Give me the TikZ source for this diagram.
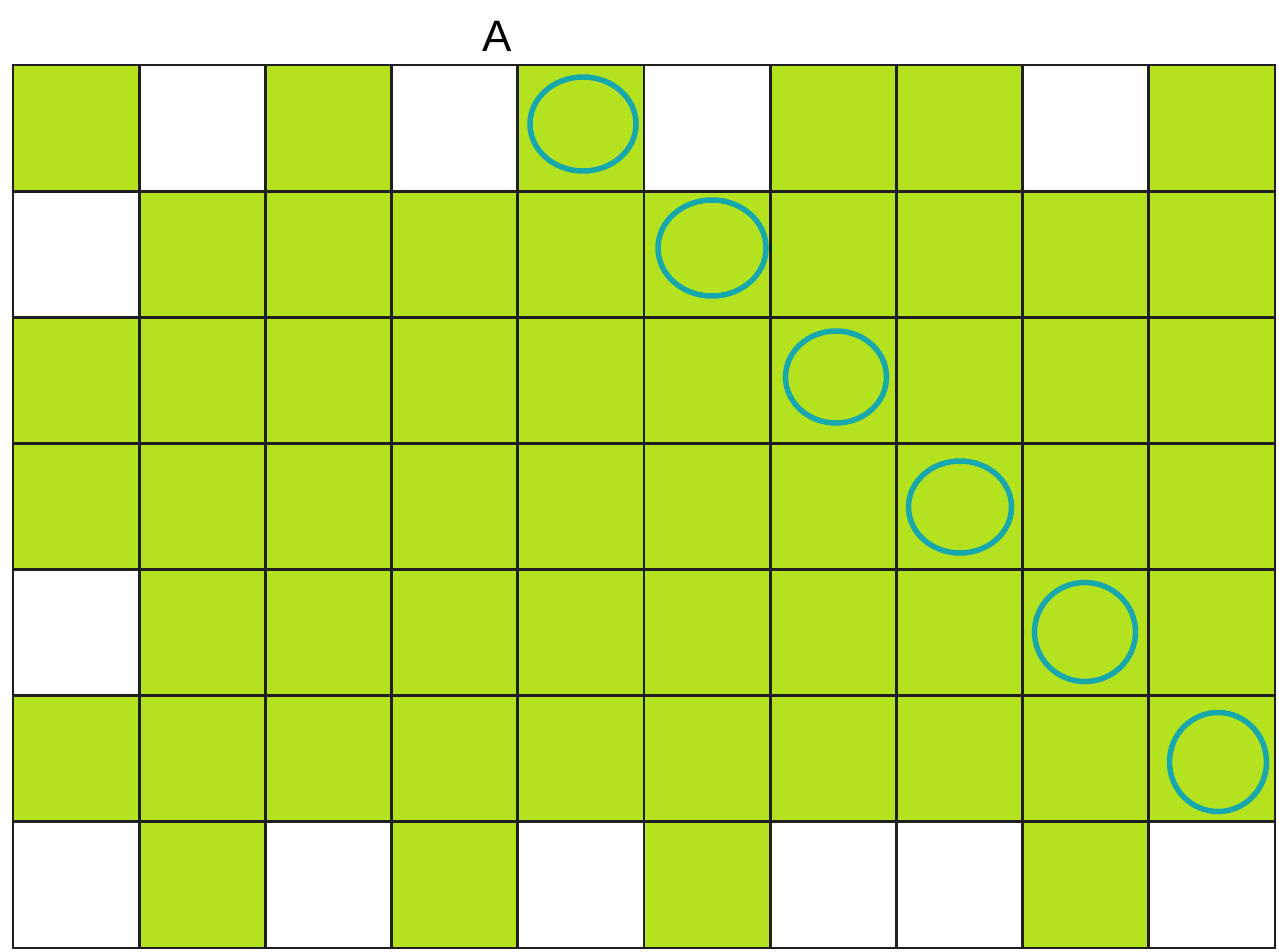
\documentclass[tikz,border=0pt]{standalone}
\usepackage{fontspec}
\setmainfont{Liberation Sans}
\usetikzlibrary{shapes.geometric}
\definecolor{lime}{RGB}{180,226,30}
\definecolor{ring}{RGB}{22,168,172}
\begin{document}
\begin{tikzpicture}[x=1pt,y=-1pt,
  cell/.style={draw=black!88,line width=2.9pt,minimum width=126.2pt,minimum height=126.14pt,inner sep=0pt,outer sep=0pt},
  ringshape/.style={ellipse,draw=ring,line width=5.5pt,inner sep=0pt}]
\useasboundingbox (0,0) rectangle (1279,952);
\fill[white] (0,0) rectangle (1279,952);
\foreach \w in {0-1,0-3,0-5,0-8,1-0,4-0,6-0,6-2,6-4,6-6,6-7,6-9}{\expandafter\gdef\csname wc-\w\endcsname{}}
\foreach \r in {0,...,6}{
  \foreach \c in {0,...,9}{
    \ifcsname wc-\r-\c\endcsname\def\fc{white}\else\def\fc{lime}\fi
    \node[cell,fill=\fc] (cell-\r-\c) at ({13+126.2*\c+63.1},{65+126.14*\r+63.07}) {};
  }
}
\node[ringshape,minimum width=106pt,minimum height=94pt] (o1) at (583,124) {};
\node[ringshape,minimum width=108pt,minimum height=96pt] (o2) at (712,248) {};
\node[ringshape,minimum width=101pt,minimum height=92pt] (o3) at (836,377) {};
\node[ringshape,minimum width=103pt,minimum height=92pt] (o4) at (960,507) {};
\node[ringshape,minimum width=101pt,minimum height=99pt] (o5) at (1085,632) {};
\node[ringshape,minimum width=97pt,minimum height=99pt] (o6) at (1218,762) {};
\node[font=\fontsize{44}{44}\selectfont,inner sep=0pt,anchor=base] (lbl) at (497,52) {A};
\end{tikzpicture}
\end{document}
